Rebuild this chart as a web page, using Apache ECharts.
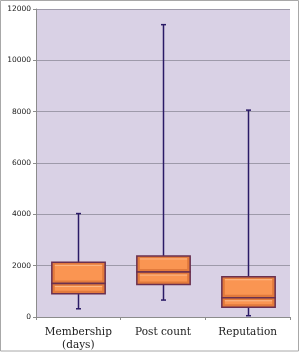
<!DOCTYPE html>
<html><head><meta charset="utf-8">
<script src="https://cdn.jsdelivr.net/npm/echarts@6/dist/echarts.min.js"></script>
<style>html,body{margin:0;padding:0;background:#fff}#c{width:300px;height:352px}</style>
</head><body><div id="c"></div>
<script>
const categories = ['Membership\n(days)', 'Post count', 'Reputation'];
const mins    = [320, 660, 50];
const q1s     = [910, 1270, 380];
const medians = [1310, 1750, 750];
const q3s     = [2130, 2380, 1570];
const maxs    = [4030, 11390, 8060];
const yTicks  = [0, 2000, 4000, 6000, 8000, 10000, 12000];

const data = categories.map((c, i) => [i, mins[i], q1s[i], medians[i], q3s[i], maxs[i]]);

function boxPart(x, w, yTop, yBot) {
  const h = yBot - yTop;
  const kids = [
    {type:'rect', shape:{x:x - w/2, y:yTop, width:w, height:h},
     style:{fill:'#e27a3c', stroke:'#6a3050', lineWidth:1.5}}
  ];
  const ih = h - 5.5;
  if (ih > 1) {
    kids.push({type:'rect', shape:{x:x - w/2 + 3, y:yTop + 2.5, width:w - 6, height:ih},
      style:{fill:'#fa9552'}});
    kids.push({type:'line', shape:{x1:x - w/2 + 3, y1:yTop + 3, x2:x + w/2 - 3, y2:yTop + 3},
      style:{stroke:'#fcbb8a', lineWidth:1}});
  }
  return kids;
}

function renderItem(params, api) {
  const i = api.value(0);
  const pMin = api.coord([i, api.value(1)]);
  const pQ1 = api.coord([i, api.value(2)]);
  const pMed = api.coord([i, api.value(3)]);
  const pQ3 = api.coord([i, api.value(4)]);
  const pMax = api.coord([i, api.value(5)]);
  const x = Math.round(pMed[0]) + 0.5;
  const w = api.size([1, 0])[0] * 0.63;
  const wc = '#2a1a66';
  let children = [
    {type:'line', shape:{x1:x, y1:pMax[1], x2:x, y2:pQ3[1]}, style:{stroke:wc, lineWidth:1.5}},
    {type:'line', shape:{x1:x, y1:pMin[1], x2:x, y2:pQ1[1]}, style:{stroke:wc, lineWidth:1.5}},
    {type:'line', shape:{x1:x - 2.5, y1:pMax[1], x2:x + 2.5, y2:pMax[1]}, style:{stroke:wc, lineWidth:1.5}},
    {type:'line', shape:{x1:x - 2.5, y1:pMin[1], x2:x + 2.5, y2:pMin[1]}, style:{stroke:wc, lineWidth:1.5}}
  ];
  children = children.concat(boxPart(x, w, pQ3[1], pMed[1]));
  children = children.concat(boxPart(x, w, pMed[1], pQ1[1]));
  return {type:'group', children};
}

const chart = echarts.init(document.getElementById('c'), null, {renderer:'canvas'});
chart.setOption({
  animation:false,
  backgroundColor:'#ffffff',
  graphic:[{type:'rect', z:100, silent:true,
    shape:{x:0.5, y:0.5, width:298, height:350.5},
    style:{fill:'none', stroke:'#a8a8a8', lineWidth:1}}],
  grid:{left:36, right:10, top:9, bottom:35, show:true, backgroundColor:'#d9d1e5', borderWidth:0},
  xAxis:{type:'category', data:categories, boundaryGap:true,
    axisLine:{lineStyle:{color:'#8c8c8c', width:1}},
    axisTick:{show:true, alignWithLabel:false, length:3, lineStyle:{color:'#8c8c8c'}},
    axisLabel:{interval:0, fontFamily:'DejaVu Serif', fontSize:10.5, color:'#1a1a1a', margin:9, lineHeight:13}},
  yAxis:{type:'value', min:yTicks[0], max:yTicks[yTicks.length-1], interval:2000,
    axisLine:{show:true, lineStyle:{color:'#8c8c8c'}},
    axisTick:{show:true, length:3, lineStyle:{color:'#8c8c8c'}},
    splitLine:{lineStyle:{color:'#9e9aaa', width:1}},
    axisLabel:{fontFamily:'DejaVu Sans', fontSize:7.5, color:'#1a1a1a', margin:5,
      formatter: v => String(v)}},
  series:[{type:'custom', renderItem, data, encode:{x:0, y:[1,2,3,4,5]}, clip:false}]
});
</script></body></html>
